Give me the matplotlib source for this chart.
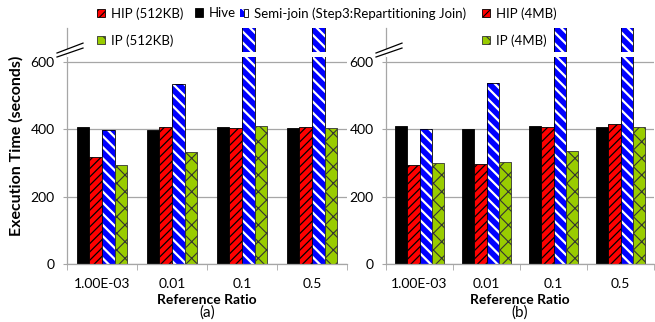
import matplotlib
matplotlib.use("Agg")
import matplotlib.pyplot as plt
import numpy as np
from matplotlib.patches import Patch, Polygon
from matplotlib.legend_handler import HandlerTuple

plt.rcParams["font.family"] = ["Lato", "DejaVu Sans"]
plt.rcParams["font.size"] = 10

# ---------------------------------------------------------------------------
# Data (execution time in seconds); tall Semi-join bars run off the broken axis
# ---------------------------------------------------------------------------
ratios = ["1.00E-03", "0.01", "0.1", "0.5"]

hive_a = [407, 397, 405, 403]
hip_a = [316, 407, 402, 405]
semi_a = [398, 535, 1200, 1200]
ip_a = [294, 333, 408, 403]

hive_b = [409, 399, 408, 405]
hip_b = [295, 298, 405, 416]
semi_b = [399, 537, 1200, 1200]
ip_b = [300, 303, 335, 406]

RED = "#FF0000"
BLUE = "#0000FF"
GREEN = "#99CC00"
GRID = "#A6A6A6"
YMAX = 700
BREAK = (615, 630)


def draw_panel(ax, hive, hip, semi, ip, tag, ylabel=None):
    x = np.arange(len(ratios))
    w = 0.182

    ax.bar(x - 1.5 * w, hive, w, color="black", edgecolor="black", lw=0.6, zorder=2)

    plt.rcParams["hatch.linewidth"] = 0.9
    ax.bar(x - 0.5 * w, hip, w, color=RED, edgecolor="black", hatch="////", lw=0.6, zorder=2)

    plt.rcParams["hatch.linewidth"] = 1.6
    ax.bar(x + 0.5 * w, semi, w, color=BLUE, edgecolor="white", hatch="\\\\\\", lw=0, zorder=2)
    ax.bar(x + 0.5 * w, semi, w, fill=False, edgecolor="black", lw=0.6, zorder=2)

    plt.rcParams["hatch.linewidth"] = 0.8
    ax.bar(x + 1.5 * w, ip, w, color=GREEN, edgecolor="#333333", hatch="xx", lw=0.6, zorder=2)

    # axis break: white band across the bars plus "//" marks on the spine
    ax.axhspan(BREAK[0], BREAK[1], color="white", lw=0, zorder=3)
    trans = ax.transAxes
    sx = 10 / (ax.get_position().width * 655)
    x0, x1 = -sx, 1.6 * sx
    ax.add_patch(Polygon([[x0, 0.894], [x1, 0.936], [x1, 0.915], [x0, 0.877]],
                         closed=True, facecolor="white", edgecolor="none",
                         transform=trans, clip_on=False, zorder=4))
    ax.plot([x0, x1], [0.894, 0.936], color="black", lw=0.9, transform=trans,
            clip_on=False, zorder=5)
    ax.plot([x0, x1], [0.877, 0.915], color="black", lw=0.9, transform=trans,
            clip_on=False, zorder=5)

    ax.set_xlim(-0.5, len(ratios) - 0.5)
    ax.set_ylim(0, YMAX)
    ax.set_yticks([0, 200, 400, 600])
    ax.set_xticks(x)
    ax.set_xticklabels(ratios)
    ax.set_xticks(np.arange(len(ratios) + 1) - 0.5, minor=True)
    ax.tick_params(axis="x", which="major", length=0, pad=10)
    ax.tick_params(axis="x", which="minor", length=4, color=GRID, direction="out")
    ax.tick_params(axis="y", length=3, color=GRID, pad=6)

    ax.yaxis.grid(True, color=GRID, lw=0.9, zorder=0)
    ax.set_axisbelow(True)
    for side in ("top", "right"):
        ax.spines[side].set_visible(False)
    for side in ("left", "bottom"):
        ax.spines[side].set_color(GRID)
        ax.spines[side].set_linewidth(0.9)

    ax.set_xlabel("Reference Ratio", fontweight="bold", labelpad=3)
    ax.annotate(tag, xy=(0.5, 0), xycoords="axes fraction", xytext=(0, -35),
                textcoords="offset points", ha="center", va="center", fontsize=11)
    if ylabel:
        ax.set_ylabel(ylabel, fontweight="bold", fontsize=11.5, labelpad=5)


fig = plt.figure(figsize=(6.55, 3.22), dpi=100)
ax_a = fig.add_axes([67 / 655, 58 / 322, 280 / 655, 236 / 322])
ax_b = fig.add_axes([386 / 655, 58 / 322, 268 / 655, 236 / 322])

draw_panel(ax_a, hive_a, hip_a, semi_a, ip_a, "(a)", ylabel="Execution Time (seconds)")
draw_panel(ax_b, hive_b, hip_b, semi_b, ip_b, "(b)")

# legend handles
plt.rcParams["hatch.linewidth"] = 0.9
h_hip512 = Patch(facecolor=RED, edgecolor="black", hatch="////", lw=0.6)
h_hive = Patch(facecolor="black", edgecolor="black", lw=0.6)
plt.rcParams["hatch.linewidth"] = 1.2
h_semi = (Patch(facecolor=BLUE, edgecolor="white", hatch="\\\\\\", lw=0),
          Patch(fill=False, edgecolor="black", lw=0.6))
plt.rcParams["hatch.linewidth"] = 0.9
h_hip4 = Patch(facecolor=RED, edgecolor="black", hatch="////", lw=0.6)
plt.rcParams["hatch.linewidth"] = 0.8
h_ip512 = Patch(facecolor=GREEN, edgecolor="#333333", hatch="xx", lw=0.6)
h_ip4 = Patch(facecolor=GREEN, edgecolor="#333333", hatch="xx", lw=0.6)

# Excel-style legend: four separately placed columns
legend_cols = [
    (97, [h_hip512, h_ip512], ["HIP (512KB)", "IP (512KB)"]),
    (195, [h_hive], ["Hive"]),
    (240, [h_semi], ["Semi-join (Step3:Repartitioning Join)"]),
    (482, [h_hip4, h_ip4], ["HIP (4MB)", "IP (4MB)"]),
]
for xpix, hs, ls in legend_cols:
    fig.legend(hs, ls, loc="upper left", bbox_to_anchor=(xpix / 655, 1 - 7 / 322),
               frameon=False, borderpad=0, borderaxespad=0, handlelength=0.6,
               handleheight=0.6, handletextpad=0.45, labelspacing=1.1, fontsize=9.5,
               handler_map={tuple: HandlerTuple(ndivide=None, pad=0)})

fig.savefig("out.png", dpi=100)
